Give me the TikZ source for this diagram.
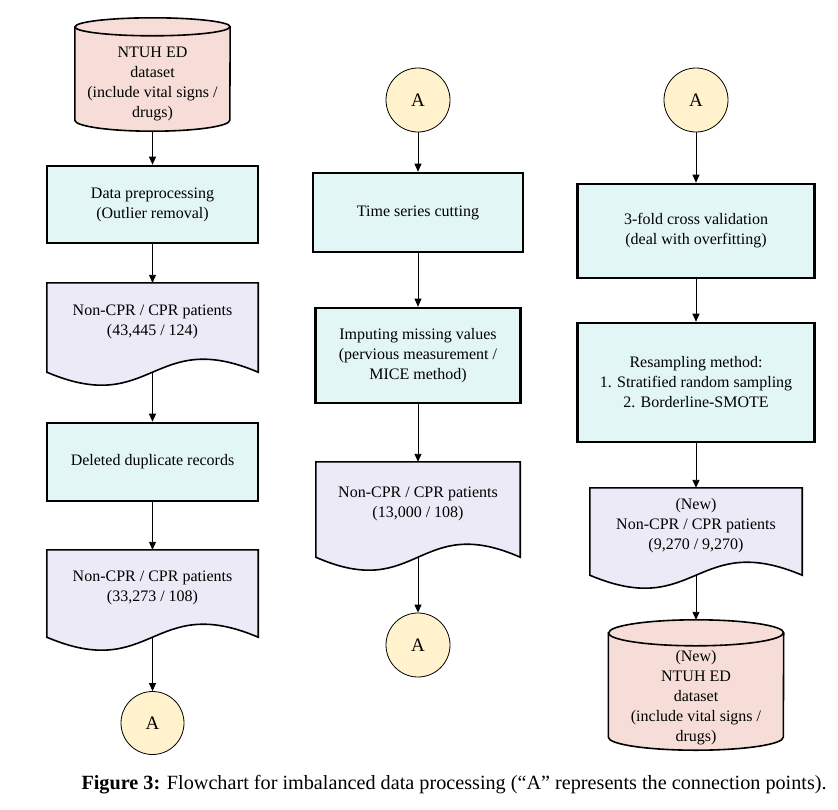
\documentclass[tikz,border=0pt]{standalone}
\usepackage{fontspec}
\setmainfont{Liberation Serif}
\usepackage{tikz}
\usetikzlibrary{arrows.meta,calc,backgrounds}

\definecolor{cylpink}{RGB}{247,221,216}
\definecolor{boxcyan}{RGB}{227,246,246}
\definecolor{doclav}{RGB}{235,234,246}
\definecolor{conyellow}{RGB}{255,242,204}

\tikzset{
  procbox/.style={draw, line width=2.6pt, fill=boxcyan, align=center, inner sep=0pt},
  docbox/.style={align=center, inner sep=0pt, minimum height=78pt},
  docshape/.style={draw, line width=1.6pt, fill=doclav},
  cylbox/.style={align=center, inner sep=0pt},
  cylshape/.style={draw, line width=1.6pt, fill=cylpink},
  conn/.style={circle, draw, line width=0.8pt, fill=conyellow, minimum size=64pt, inner sep=0pt, font=\fontsize{19}{22}\selectfont},
  flow/.style={-{Triangle[length=8pt,width=7pt]}, line width=0.9pt},
}

\begin{document}
\begin{tikzpicture}[x=1pt,y=-1pt, font=\fontsize{16}{20}\selectfont]
\useasboundingbox (0,0) rectangle (838,809);

% left column
\node[cylbox, minimum width=155pt, minimum height=95pt] (data) at (152.5,83.5) {NTUH ED\\dataset\\(include vital signs /\\drugs)};
\node[procbox, minimum width=211pt, minimum height=77pt] (prep) at (152.5,204.5) {Data preprocessing\\(Outlier removal)};
\node[docbox, minimum width=211pt] (raw) at (152.5,322) {Non-CPR / CPR patients\\(43,445 / 124)};
\node[procbox, minimum width=211pt, minimum height=78pt] (dedup) at (152.5,462) {Deleted duplicate records};
\node[docbox, minimum width=211pt, minimum height=76pt] (clean) at (152.5,588) {Non-CPR / CPR patients\\(33,273 / 108)};
\node[conn, minimum size=63pt] (outA) at (152.5,723) {A};

% middle column
\node[conn] (inA) at (418,100) {A};
\node[procbox, minimum width=210pt, minimum height=79pt] (cut) at (418,212.5) {Time series cutting};
\node[procbox, minimum width=205pt, minimum height=95pt] (impute) at (418,355.5) {Imputing missing values\\(pervious measurement /\\MICE method)};
\node[docbox, minimum width=204pt, minimum height=84pt] (series) at (418,504) {Non-CPR / CPR patients\\(13,000 / 108)};
\node[conn] (midA) at (418,645) {A};

% right column
\node[conn] (inB) at (696,100) {A};
\node[procbox, minimum width=237pt, minimum height=94pt] (cv) at (696,231) {3-fold cross validation\\(deal with overfitting)};
\node[procbox, minimum width=237pt, minimum height=119pt] (resample) at (696,382.5) {Resampling method:\\1. Stratified random sampling\\2. Borderline-SMOTE};
\node[docbox, minimum width=212pt, minimum height=76pt] (balanced) at (696,526) {(New)\\Non-CPR / CPR patients\\(9,270 / 9,270)};
\node[cylbox, minimum width=175pt, minimum height=104pt] (newdata) at (696,698) {(New)\\NTUH ED\\dataset\\(include vital signs /\\drugs)};

% caption
\node[anchor=west, font=\fontsize{20.2}{22}\selectfont] (caption) at (78,785) {\textbf{Figure 3:} Flowchart for imbalanced data processing (“A” represents the connection points).};

\begin{pgfonlayer}{background}
%Shape: Document
\foreach \d in {raw,clean,series,balanced}{
  \draw[docshape] (\d.north west) -- (\d.north east) -- ($(\d.south east)+(0,11)$)
    .. controls ($(\d.south)+(0,-34)$) and ($(\d.south)+(0,56)$) .. ($(\d.south west)+(0,11)$) -- cycle;
  \coordinate (\d-wave) at ($(\d.south)+(0,11)$);
}
%Shape: Can
\draw[cylshape] ($(data.north west)+(0,-9)$) -- ($(data.south west)+(0,-11)$)
  arc[start angle=180, end angle=360, x radius=77.5pt, y radius=11pt] -- ($(data.north east)+(0,-9)$)
  arc[start angle=0, end angle=180, x radius=77.5pt, y radius=9pt] -- cycle;
\draw[cylshape, fill=none] ($(data.north west)+(0,-9)$) arc[start angle=180, end angle=360, x radius=77.5pt, y radius=9pt];
\draw[cylshape] ($(newdata.north west)+(0,-13)$) -- ($(newdata.south west)+(0,-13)$)
  arc[start angle=180, end angle=360, x radius=87.5pt, y radius=13pt] -- ($(newdata.north east)+(0,-13)$)
  arc[start angle=0, end angle=180, x radius=87.5pt, y radius=13pt] -- cycle;
\draw[cylshape, fill=none] ($(newdata.north west)+(0,-13)$) arc[start angle=180, end angle=360, x radius=87.5pt, y radius=13pt];
\coordinate (newtop) at ($(newdata.north)+(0,-26)$);
\end{pgfonlayer}

% connectors
\draw[flow] (data) -- (prep);
\draw[flow] (prep) -- (raw);
\draw[flow] (raw-wave) -- (dedup);
\draw[flow] (dedup) -- (clean);
\draw[flow] (clean-wave) -- (outA);
\draw[flow] (inA) -- (cut);
\draw[flow] (cut) -- (impute);
\draw[flow] (impute) -- (series);
\draw[flow] (series-wave) -- (midA);
\draw[flow] (inB) -- (cv);
\draw[flow] (cv) -- (resample);
\draw[flow] (resample) -- (balanced);
\draw[flow] (balanced-wave) -- (newtop);

\end{tikzpicture}
\end{document}
